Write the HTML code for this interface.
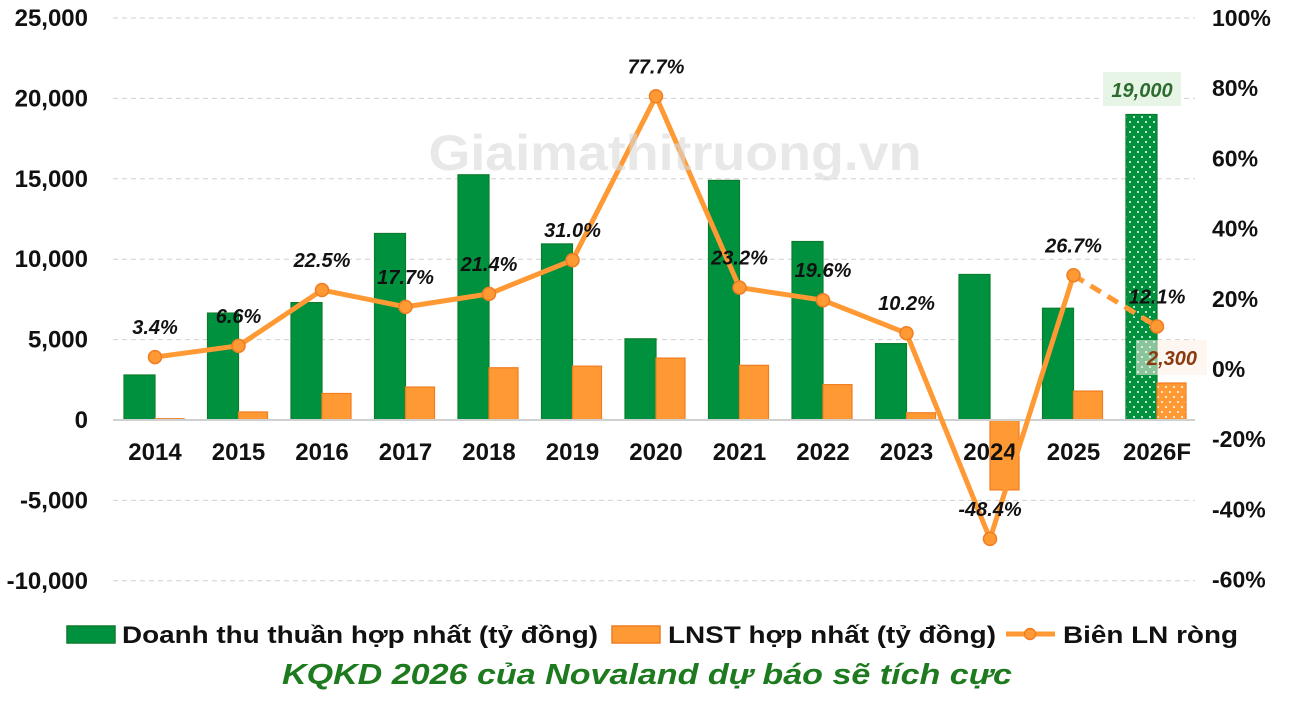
<!DOCTYPE html>
<html><head><meta charset="utf-8"><style>
html,body{margin:0;padding:0;background:#fff;}
svg{display:block;font-family:"Liberation Sans",sans-serif;}
</style></head><body>
<svg id="c" width="1294" height="705" viewBox="0 0 1294 705" xmlns="http://www.w3.org/2000/svg">
<defs>
<pattern id="dg" width="8" height="10" patternUnits="userSpaceOnUse">
<rect width="8" height="10" fill="#00913f"/><circle cx="2" cy="2" r="1" fill="#fff"/><circle cx="6" cy="7" r="1" fill="#fff"/></pattern>
<pattern id="do" width="8" height="10" patternUnits="userSpaceOnUse">
<rect width="8" height="10" fill="#ff9933"/><circle cx="2" cy="2" r="1" fill="#fff"/><circle cx="6" cy="7" r="1" fill="#fff"/></pattern>
</defs>
<g id="g"></g>
</svg>
<script>
var ns="http://www.w3.org/2000/svg",G=document.getElementById('g');
function el(t,a,txt){var e=document.createElementNS(ns,t);for(var k in a)e.setAttribute(k,a[k]);if(txt!=null)e.textContent=txt;G.appendChild(e);return e;}
function yL(v){return 420-v*0.01608;}
function yR(p){return 369-p*3.51;}
[25000,20000,15000,10000,5000,-5000,-10000].forEach(function(v){el('line',{x1:113,x2:1195,y1:yL(v),y2:yL(v),stroke:'#d0d0d0','stroke-width':1,'stroke-dasharray':'5,4'});});
[25000,20000,15000,10000,5000,0,-5000,-10000].forEach(function(v){el('text',{x:88,y:yL(v)+8,'text-anchor':'end','font-size':24,'font-weight':'bold',fill:'#111'},v.toLocaleString('en-US'));});
[100,80,60,40,20,0,-20,-40,-60].forEach(function(p){el('text',{x:1212,y:yR(p)+8,'font-size':23,'font-weight':'bold',fill:'#111'},p+'%');});
var yrs=['2014','2015','2016','2017','2018','2019','2020','2021','2022','2023','2024','2025','2026F'];
var gr=[2800,6650,7300,11600,15250,10950,5050,14900,11100,4750,9050,6950,19000];
var or=[80,500,1650,2050,3250,3350,3850,3400,2200,450,-4350,1800,2300];
var m=[3.4,6.6,22.5,17.7,21.4,31.0,77.7,23.2,19.6,10.2,-48.4,26.7,12.1];
function cx(i){return 155+i*83.5;}
for(var i=0;i<13;i++){
 var c=cx(i),last=i==12;
 el('rect',{x:c-31,y:yL(gr[i]),width:31,height:420-yL(gr[i]),fill:last?'url(#dg)':'#00913f',stroke:'#0a7d2c','stroke-width':1.2});
 var yo=Math.min(yL(or[i]),420),h=Math.abs(yL(or[i])-420);
 el('rect',{x:c,y:yo,width:29,height:h,fill:last?'url(#do)':'#ff9933',stroke:'#ef7d22','stroke-width':1.2});
 el('text',{x:c,y:460,'text-anchor':'middle','font-size':24,'font-weight':'bold',fill:'#111'},yrs[i]);
}
el('line',{x1:113,x2:1195,y1:420,y2:420,stroke:'#d0d0d0','stroke-width':2});
var pts=[];for(var i=0;i<12;i++)pts.push(cx(i)+','+yR(m[i]));
el('polyline',{points:pts.join(' '),fill:'none',stroke:'#ff9933','stroke-width':5,'stroke-linejoin':'round'});
el('line',{x1:cx(11),y1:yR(m[11]),x2:cx(12),y2:yR(m[12]),stroke:'#ff9933','stroke-width':5,'stroke-dasharray':'12,8'});
for(var i=0;i<13;i++){el('circle',{cx:cx(i),cy:yR(m[i]),r:6.5,fill:'#ff9933',stroke:'#ef7d22','stroke-width':1.5});}
el('text',{x:675,y:170,'text-anchor':'middle','font-size':50,'font-weight':'bold',fill:'#d8d8d8','fill-opacity':0.6,textLength:493,lengthAdjust:'spacingAndGlyphs'},'Giaimathitruong.vn');
for(var i=0;i<13;i++){el('text',{x:cx(i),y:yR(m[i])-23,'text-anchor':'middle','font-size':20,'font-weight':'bold','font-style':'italic',fill:'#111'},m[i].toFixed(1)+'%');}
el('rect',{x:1103,y:72,width:78,height:34,fill:'#e3f4e3',opacity:0.9});
el('text',{x:1142,y:97,'text-anchor':'middle','font-size':20,'font-weight':'bold','font-style':'italic',fill:'#2e6b2e'},'19,000');
el('rect',{x:1136,y:340,width:71,height:35,fill:'#fbeee6',opacity:0.55});
el('text',{x:1172,y:365,'text-anchor':'middle','font-size':20,'font-weight':'bold','font-style':'italic',fill:'#8b3a0f'},'2,300');
el('rect',{x:67,y:626,width:48,height:17,fill:'#00913f',stroke:'#0a7d2c','stroke-width':1.5});
el('text',{x:122,y:643,'font-size':24,'font-weight':'bold',fill:'#111',textLength:476,lengthAdjust:'spacingAndGlyphs'},'Doanh thu thuần hợp nhất (tỷ đồng)');
el('rect',{x:612,y:626,width:48,height:17,fill:'#ff9933',stroke:'#ef7d22','stroke-width':1.5});
el('text',{x:668,y:643,'font-size':24,'font-weight':'bold',fill:'#111',textLength:328,lengthAdjust:'spacingAndGlyphs'},'LNST hợp nhất (tỷ đồng)');
el('line',{x1:1006,x2:1055,y1:634,y2:634,stroke:'#ff9933','stroke-width':5});
el('circle',{cx:1030,cy:634,r:5.5,fill:'#ff9933',stroke:'#ef7d22','stroke-width':1.5});
el('text',{x:1063,y:643,'font-size':24,'font-weight':'bold',fill:'#111',textLength:175,lengthAdjust:'spacingAndGlyphs'},'Biên LN ròng');
el('text',{x:282,y:684,'font-size':29,'font-weight':'bold','font-style':'italic',fill:'#1e7a1e',textLength:730,lengthAdjust:'spacingAndGlyphs'},'KQKD 2026 của Novaland dự báo sẽ tích cực');
</script>
</body></html>
